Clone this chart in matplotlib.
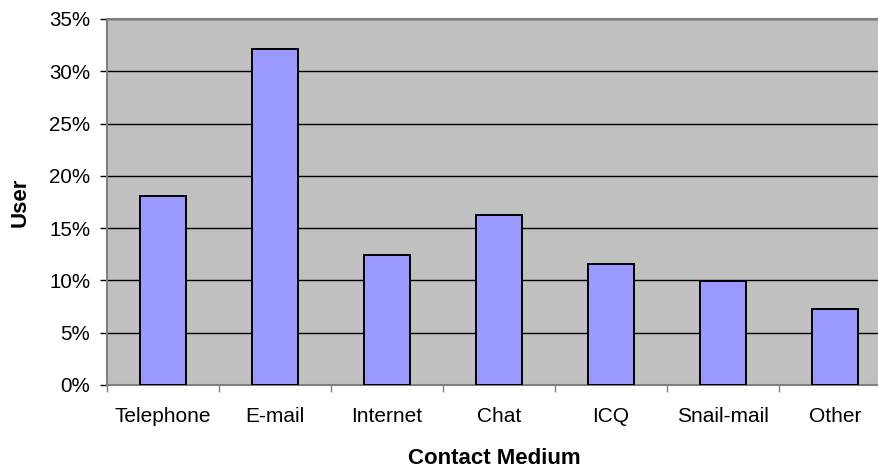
import matplotlib.pyplot as plt
import numpy as np
from matplotlib.ticker import FuncFormatter

plt.rcParams['font.family'] = ['Liberation Sans', 'DejaVu Sans']

categories = ['Telephone', 'E-mail', 'Internet', 'Chat', 'ICQ', 'Snail-mail', 'Other']
shares = [18.1, 32.1, 12.4, 16.3, 11.6, 9.9, 7.3]
y_ticks = [0, 5, 10, 15, 20, 25, 30, 35]

W, H = 879, 471
fig = plt.figure(figsize=(W / 100, H / 100), dpi=100)
# plot area runs past the right edge of the picture, as in the reference
left, right, top, bottom = 107, 891, 19, 385
ax = fig.add_axes([left / W, 1 - bottom / H, (right - left) / W, (bottom - top) / H])
ax.set_facecolor('#C0C0C0')

x = np.arange(len(categories))
ax.bar(x, shares, width=0.41, color='#9999FF', edgecolor='black', linewidth=1.4, zorder=3)

ax.set_xlim(-0.5, len(categories) - 0.5)
ax.set_ylim(0, 35)
ax.set_yticks(y_ticks)
ax.yaxis.set_major_formatter(FuncFormatter(lambda v, p: f'{v:.0f}%'))
ax.grid(axis='y', color='black', linewidth=1.0, zorder=1)

# ticks at category boundaries, labels in the middle
ax.set_xticks(np.arange(len(categories) + 1) - 0.5)
ax.set_xticklabels([])
ax.set_xticks(x, minor=True)
ax.set_xticklabels(categories, minor=True)
ax.tick_params(axis='x', which='minor', length=0, pad=16, labelsize=15)
ax.tick_params(axis='x', which='major', length=5, width=1, color='#808080')
ax.tick_params(axis='y', length=5, width=1, color='black', pad=7, labelsize=14.8)

for side in ['left', 'top', 'bottom']:
    ax.spines[side].set_color('#808080')
    ax.spines[side].set_linewidth(1.5)
ax.spines['right'].set_visible(False)

fig.text(494 / W, 1 - 458 / H, 'Contact Medium', ha='center', va='center',
         fontsize=16, fontweight='bold')
fig.text(20 / W, 1 - 202 / H, 'User', ha='center', va='center', rotation=90,
         fontsize=16, fontweight='bold')

fig.savefig('out.png', dpi=100)
